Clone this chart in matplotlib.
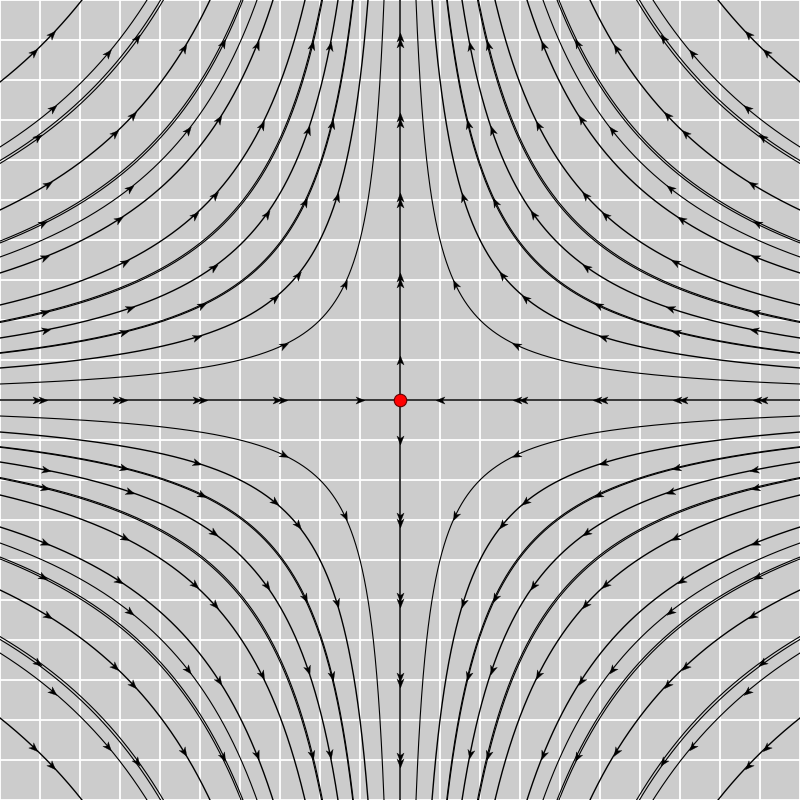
import numpy as np
import matplotlib
matplotlib.use("Agg")
import matplotlib.pyplot as plt
from matplotlib.markers import MarkerStyle
from matplotlib.transforms import Affine2D

# saddle system: x' = -x, y' = y  ->  trajectories x*y = const
x_lim = [-10, 10]
y_lim = [-10, 10]
grid_step = 1
fixed_point = [0.0, 0.0]

# |x*y| of the drawn trajectories (same set in every quadrant)
traj_c = [4.0, 8.0, 11.75, 15.5, 19.5, 23.75, 31.75, 35.75, 39.5,
          47.5, 59.5, 63.25, 79.5]
# 1 = single line, 2 = two overlapping streamlines
traj_mult = [1, 1, 2, 1, 2, 1, 1, 1, 2, 1, 2, 1, 1]
traj_lw = [0.8, 1.0, 0.8, 1.0, 0.8, 1.0, 1.0, 0.8, 0.8, 1.0, 0.8, 0.8, 1.0]
# |x| of the arrows on each trajectory (mirrored at |x| -> c/|x|)
traj_arrow_x = [[1.375], [1.575, 2.55], [1.7, 2.375], [1.75, 2.3, 3.325],
                [2.2], [3.45, 4.625], [3.575, 4.525], [5.3], [4.425],
                [5.4, 6.675], [6.575], [7.3], [8.7]]

# arrows on the invariant axes, |coordinate|; 1 = single head, 2 = double
axis_arrow_pos = [1, 3, 5, 7, 9]
axis_arrow_mult = [1, 2, 2, 2, 2]

arrow_verts = [(1.0, 0.0), (-1.0, 0.8), (-0.45, 0.0), (-1.0, -0.8), (1.0, 0.0)]


def draw_arrow(ax, x, y, angle_deg, size=6.5):
    m = MarkerStyle(arrow_verts, transform=Affine2D().rotate_deg(angle_deg))
    ax.plot([x], [y], linestyle='none', marker=m, markersize=size,
            color='black', markeredgewidth=0.2, zorder=4)


fig = plt.figure(figsize=(8, 8), dpi=100)
ax = fig.add_axes([0, 0, 1, 1])
ax.set_facecolor('#cccccc')
ax.set_xlim(x_lim)
ax.set_ylim(y_lim)
ticks = np.arange(x_lim[0], x_lim[1] + 1, grid_step)
ax.set_xticks(ticks)
ax.set_yticks(ticks)
ax.grid(True, color='white', linewidth=1.3)
ax.set_axisbelow(True)
ax.tick_params(length=0, labelbottom=False, labelleft=False)
for s in ax.spines.values():
    s.set_visible(False)

quadrants = [(-1, 1), (1, 1), (-1, -1), (1, -1)]

for c, mult, lw, arr in zip(traj_c, traj_mult, traj_lw, traj_arrow_x):
    variants = [c] if mult == 1 else [c * 0.994, c * 1.006]
    for cc in variants:
        r = np.sqrt(cc)
        T = np.log(10.5 / r)
        t = np.linspace(-T, T, 2000)
        for sx, sy in quadrants:
            ax.plot(sx * r * np.exp(-t), sy * r * np.exp(t),
                    color='black', linewidth=lw, zorder=3)
    for sx, sy in quadrants:
        for ax_pos in arr:
            for px in (ax_pos, c / ax_pos):
                x = sx * px
                y = sy * c / px
                ang = np.degrees(np.arctan2(y, -x))
                draw_arrow(ax, x, y, ang)

# invariant axes of the saddle
ax.axhline(0, color='black', linewidth=1.1, zorder=3)
ax.axvline(0, color='black', linewidth=1.1, zorder=3)
for a, m in zip(axis_arrow_pos, axis_arrow_mult):
    offs = [0.0] if m == 1 else [-0.07, 0.07]
    for o in offs:
        draw_arrow(ax, -a + o, 0, 0)      # left: toward centre
        draw_arrow(ax, a + o, 0, 180)     # right: toward centre
        draw_arrow(ax, 0, a + o, 90)      # top: away from centre
        draw_arrow(ax, 0, -a + o, -90)    # bottom: away from centre

ax.plot(fixed_point[0], fixed_point[1], 'o', color='red',
        markeredgecolor='#660000', markeredgewidth=0.8, markersize=9,
        zorder=6)

fig.savefig('out.png', dpi=100)
